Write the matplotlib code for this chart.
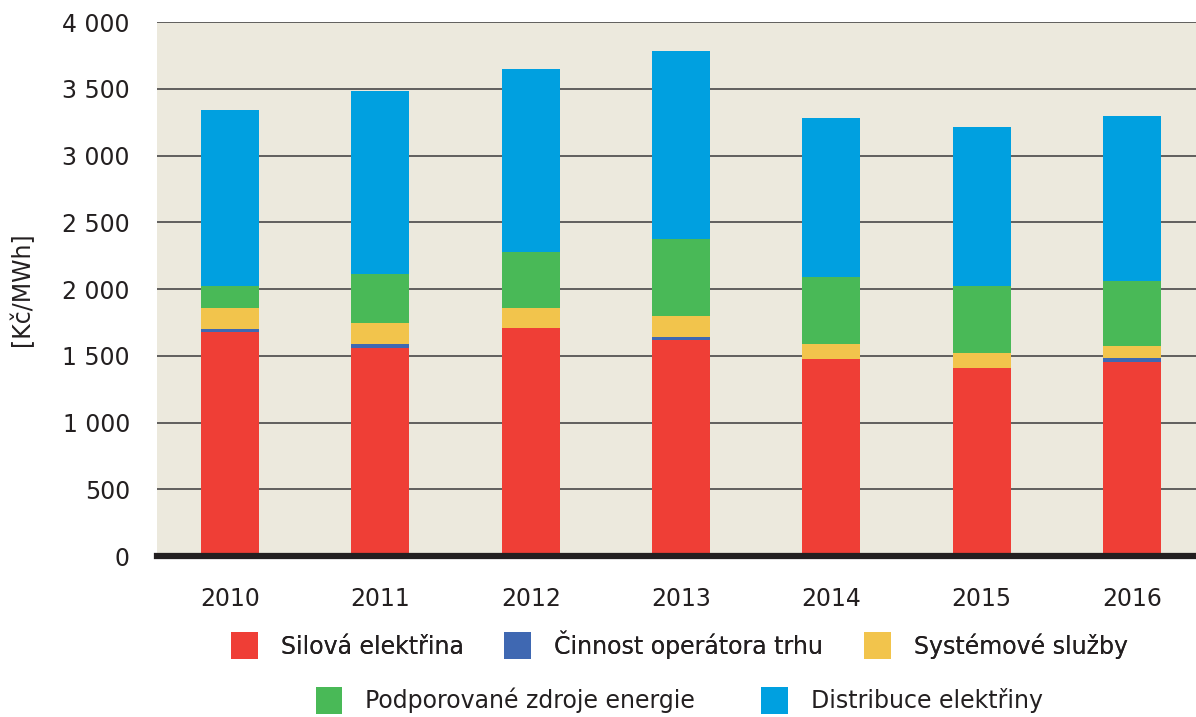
import matplotlib.pyplot as plt
from matplotlib.patches import Patch
from matplotlib.ticker import FuncFormatter

years = ['2010', '2011', '2012', '2013', '2014', '2015', '2016']
silova = [1677, 1557, 1707, 1619, 1475, 1407, 1454]
operator = [22, 30, 4, 20, 4, 4, 33]
systemove = [157, 157, 149, 157, 112, 113, 85]
podporovane = [167, 369, 419, 577, 501, 496, 486]
distribuce = [1317, 1368, 1370, 1407, 1190, 1195, 1235]

labels = ['Silová elektřina', 'Činnost operátora trhu', 'Systémové služby',
          'Podporované zdroje energie', 'Distribuce elektřiny']
colors = ['#EF3E36', '#3F68B2', '#F2C44C', '#49B957', '#00A0E0']

text_col = '#231F20'

fig = plt.figure(figsize=(11.96, 7.17), dpi=100)
ax = fig.add_axes([0.1313, 0.2245, 0.8687, 0.7448])
ax.set_facecolor('#ECE9DD')

x = range(len(years))
bottom = [0] * len(years)
for vals, col in zip([silova, operator, systemove, podporovane, distribuce], colors):
    ax.bar(x, vals, bottom=bottom, width=0.386, color=col, zorder=3)
    bottom = [b + v for b, v in zip(bottom, vals)]

ax.set_ylim(0, 4000)
ax.set_xlim(-0.486, 6.426)
ax.set_yticks(range(0, 4001, 500))
ax.yaxis.set_major_formatter(FuncFormatter(lambda v, p: f'{int(v):,}'.replace(',', ' ')))
ax.set_xticks(list(x))
ax.set_xticklabels(years)
ax.tick_params(axis='both', length=0, labelsize=17, colors=text_col)
ax.tick_params(axis='y', pad=19.5)
ax.tick_params(axis='x', pad=22)

ax.grid(axis='y', color='#3a3a3a', linewidth=1.1, zorder=4)
for s in ['left', 'right', 'top']:
    ax.spines[s].set_visible(False)
ax.spines['bottom'].set_linewidth(4.5)
ax.spines['bottom'].set_color(text_col)
ax.spines['bottom'].set_zorder(5)

fig.text(0.018, 0.596, '[Kč/MWh]', rotation=90, fontsize=17, color=text_col,
         ha='center', va='center')

# legend in two centred rows (3 + 2 entries)
handles = [Patch(facecolor=c, edgecolor='none') for c in colors]
leg_kw = dict(frameon=False, fontsize=17, handlelength=1.14, handleheight=1.38,
              handletextpad=0.97, labelcolor=text_col, borderpad=0, borderaxespad=0)
leg1 = fig.legend(handles[:3], labels[:3], ncol=3, loc='center', columnspacing=1.72,
                  bbox_to_anchor=(0.568, 0.101), **leg_kw)
fig.add_artist(leg1)
fig.legend(handles[3:], labels[3:], ncol=2, loc='center', columnspacing=2.8,
           bbox_to_anchor=(0.568, 0.023), **leg_kw)

fig.savefig('out.png', dpi=100, facecolor='white')
